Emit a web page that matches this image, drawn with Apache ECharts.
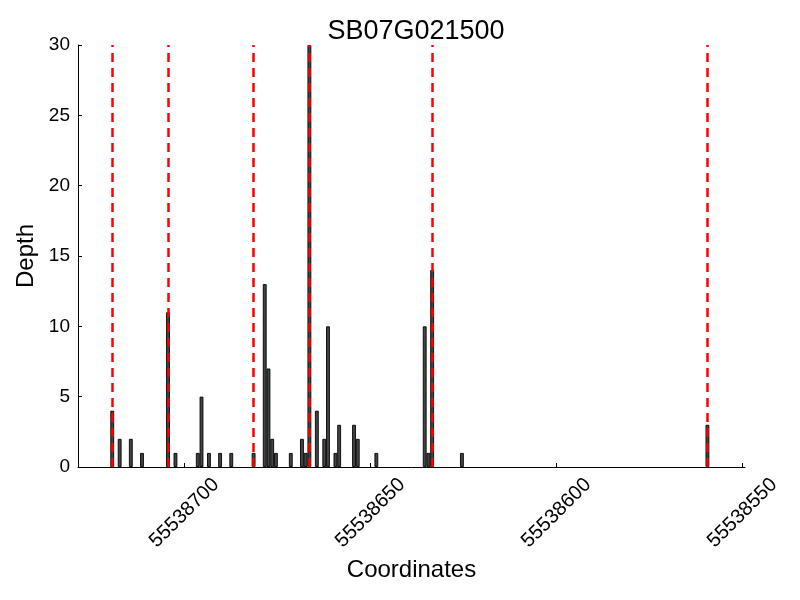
<!DOCTYPE html>
<html>
<head>
<meta charset="utf-8">
<script src="https://cdn.jsdelivr.net/npm/echarts@6/dist/echarts.min.js"></script>
<style>html,body{margin:0;padding:0;background:#fff;}#chart{width:800px;height:600px;}</style>
</head>
<body>
<div id="chart"></div>
<script>
// ---- data ----
const title = 'SB07G021500';
const positions = [55538719, 55538717, 55538714, 55538711, 55538704, 55538702, 55538696, 55538695,
  55538693, 55538690, 55538687, 55538681, 55538678, 55538677, 55538676, 55538675, 55538671,
  55538668, 55538667, 55538666, 55538664, 55538662, 55538661, 55538659, 55538658, 55538654,
  55538653, 55538648, 55538635, 55538634, 55538633, 55538625, 55538559];
const depths = [4, 2, 2, 1, 11, 1, 1, 5,
  1, 1, 1, 1, 13, 7, 2, 1, 1,
  2, 1, 30, 4, 2, 10, 1, 3, 3,
  2, 1, 10, 1, 14, 1, 3];
const markers = [55538719, 55538704, 55538681, 55538666, 55538633, 55538559];
const xTicks = [55538550, 55538600, 55538650, 55538700];
const yTicks = [0, 5, 10, 15, 20, 25, 30];

// bars are edge-aligned with width 0.8 -> centre sits 0.4 past the coordinate
const OFFSET = 0.4;
const FONT = 'Liberation Sans';

const chart = echarts.init(document.getElementById('chart'), null, {renderer: 'canvas'});
chart.setOption({
  animation: false,
  backgroundColor: '#fff',
  title: {
    text: title, left: 411, top: 13, textAlign: 'center',
    textStyle: {fontFamily: FONT, fontSize: 27, fontWeight: 'normal', color: '#000'}
  },
  grid: {left: 78, right: 55, top: 45, bottom: 133, containLabel: false},
  xAxis: {
    type: 'value', inverse: true,
    min: 55538549.3, max: 55538728.6,
    name: 'Coordinates', nameLocation: 'middle', nameGap: 89,
    nameTextStyle: {fontFamily: FONT, fontSize: 24, color: '#000'},
    axisLine: {show: true, onZero: false, lineStyle: {color: '#000', width: 1}},
    axisTick: {show: true, inside: true, length: 4, customValues: xTicks, lineStyle: {color: '#000'}},
    axisLabel: {
      customValues: xTicks, rotate: 45, align: 'center', verticalAlign: 'middle', margin: 46,
      fontFamily: FONT, fontSize: 20, color: '#000',
      formatter: v => String(Math.round(v))
    },
    splitLine: {show: false}
  },
  yAxis: {
    type: 'value', min: 0, max: 30, interval: 5,
    name: 'Depth', nameLocation: 'middle', nameGap: 40,
    nameTextStyle: {fontFamily: FONT, fontSize: 24, color: '#000'},
    axisLine: {show: true, lineStyle: {color: '#000', width: 1}},
    axisTick: {show: true, inside: true, length: 4, lineStyle: {color: '#000'}},
    axisLabel: {
      customValues: yTicks, margin: 8, fontFamily: FONT, fontSize: 19, color: '#000'
    },
    splitLine: {show: false}
  },
  series: [{
    type: 'bar',
    barWidth: 3.8,
    data: positions.map((p, i) => [p + OFFSET, depths[i]]),
    itemStyle: {color: '#444444', borderColor: '#000', borderWidth: 0.9},
    markLine: {
      silent: true, symbol: 'none', label: {show: false},
      lineStyle: {color: '#ff0000', width: 2.5, type: [9, 6]},
      z: 10,
      data: markers.map(m => ({xAxis: m + OFFSET}))
    },
    z: 2
  }]
});
</script>
</body>
</html>
